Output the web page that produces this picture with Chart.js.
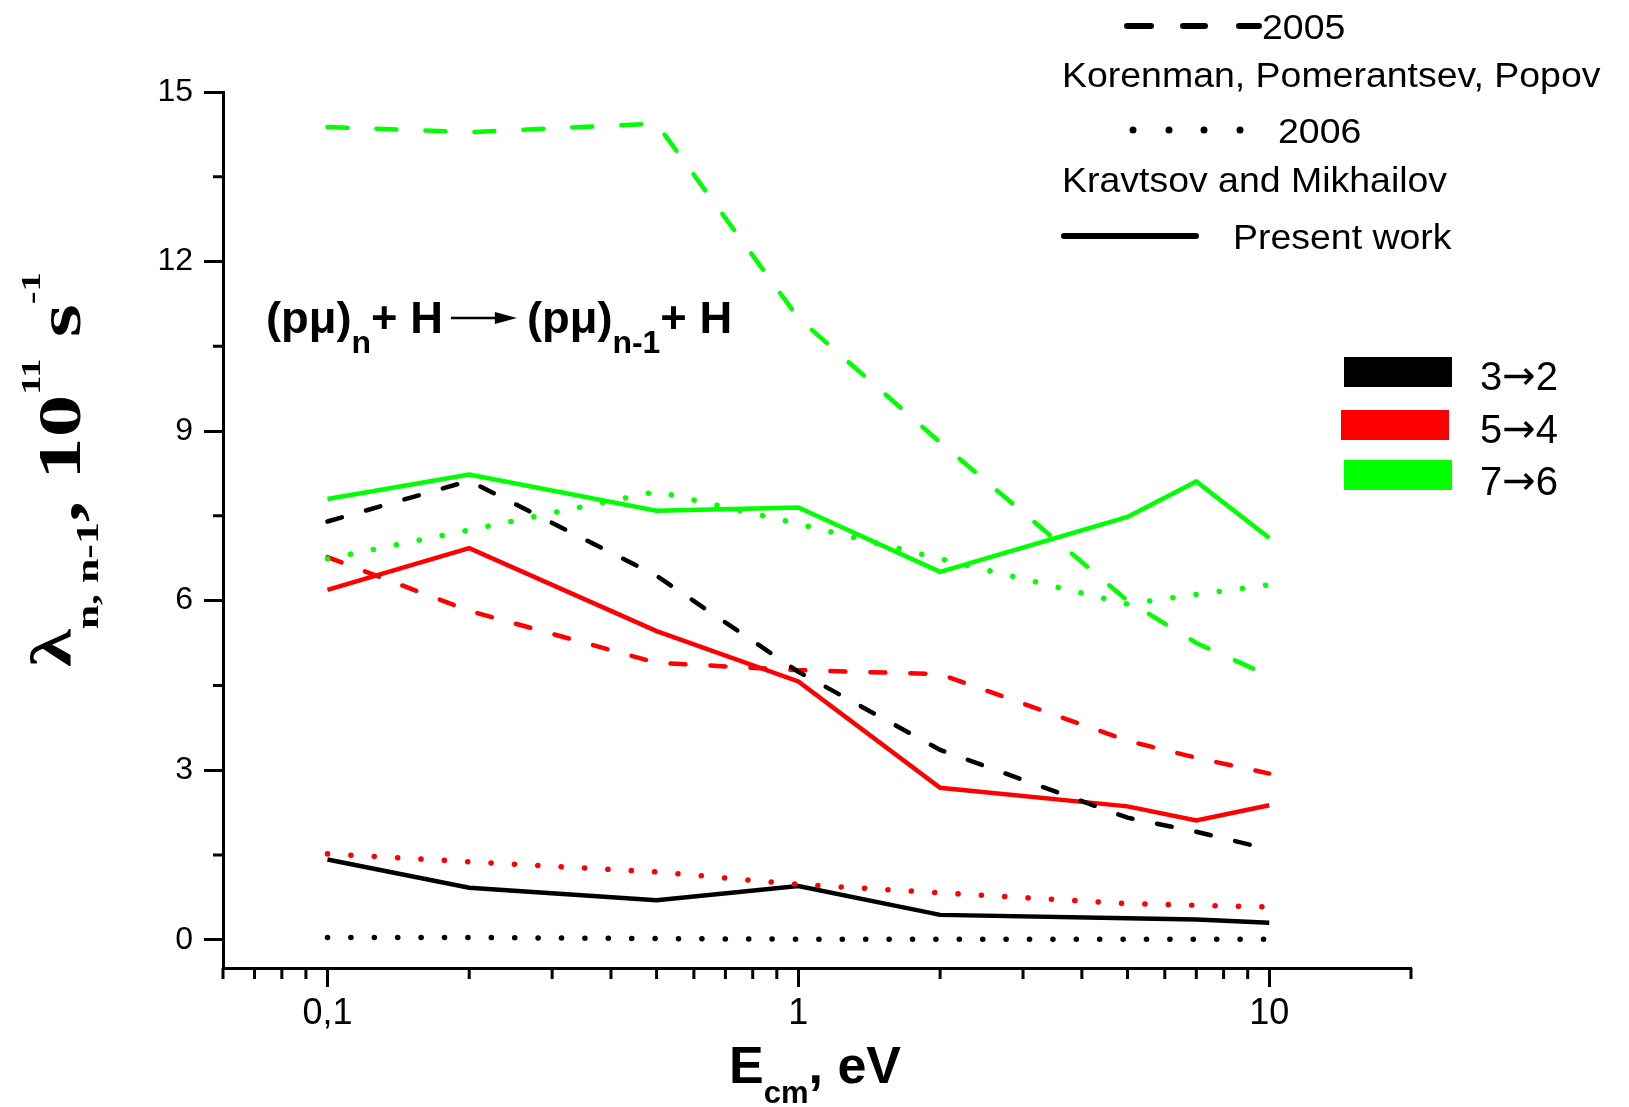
<!DOCTYPE html>
<html>
<head>
<meta charset="utf-8">
<script src="https://cdn.jsdelivr.net/npm/chart.js@4.4.0/dist/chart.umd.min.js"></script>
<style>
  html, body { margin: 0; padding: 0; background: #fff; }
  canvas { display: block; }
</style>
</head>
<body>
<canvas id="chart" width="1629" height="1107"></canvas>
<script>
// collision energies, eV
const energies = [0.1, 0.2, 0.5, 1, 2, 5, 7, 10];

// Present work (solid)
const present32 = [1.42, 0.92, 0.70, 0.95, 0.44, 0.38, 0.36, 0.30];
const present54 = [6.19, 6.93, 5.46, 4.57, 2.69, 2.36, 2.11, 2.38];
const present76 = [7.80, 8.23, 7.59, 7.65, 6.51, 7.48, 8.11, 7.11];

// Korenman, Pomerantsev, Popov 2005 (dashed)
const korenman32 = [7.40, 8.12, 6.44, 4.74, 3.36, 2.16, 1.91, 1.60];
const korenman54 = [6.77, 5.82, 4.90, 4.77, 4.70, 3.52, 3.22, 2.94];
const korenman76 = [14.38, 14.29, 14.44, 11.0, 8.8, 6.0, 5.25, 4.67];

// Kravtsov and Mikhailov 2006 (dotted)
const kravtsov32 = [0.04, 0.04, 0.02, 0.01, 0.01, 0.01, 0.01, 0.01];
const kravtsov54 = [1.52, 1.38, 1.20, 0.98, 0.83, 0.64, 0.61, 0.58];
const kravtsov76 = [6.74, 7.25, 7.93, 7.36, 6.74, 5.94, 6.11, 6.28];

const xTicks = [0.06, 0.07, 0.08, 0.09, 0.1, 0.2, 0.3, 0.4, 0.5, 0.6, 0.7, 0.8, 0.9,
                1, 2, 3, 4, 5, 6, 7, 8, 9, 10, 20];
const xMajor = [0.1, 1, 10];
const xLabels = ['0,1', '1', '10'];
const yTicks = [0, 1.5, 3, 4.5, 6, 7.5, 9, 10.5, 12, 13.5, 15];
const yLabels = ['0', '3', '6', '9', '12', '15'];

const transitions = [['3', '2'], ['5', '4'], ['7', '6']];
const colors = ['#000000', '#ff0000', '#00ff00'];

const SANS = '"Liberation Sans", Arial, sans-serif';
const SERIF = '"Liberation Serif", "Times New Roman", serif';

function series(label, values, color, style) {
  let dash = [];
  if (style === 'dash') dash = color === '#00ff00' ? [20, 29] : [15, 25];
  if (style === 'dot') dash = [0.1, 23.3];
  return {
    label: label,
    data: energies.map((x, i) => ({ x: x, y: values[i] })),
    borderColor: color,
    backgroundColor: color,
    borderWidth: style === 'dot' ? 5.5 : 4.5,
    borderDash: dash,
    borderCapStyle: style === 'solid' ? 'butt' : 'round',
    borderJoinStyle: 'miter',
    pointRadius: 0,
    tension: 0,
    fill: false
  };
}

const isMajorX = v => xMajor.indexOf(v) >= 0;
const isMajorY = v => v % 3 === 0;

// minor ticks are shorter than the major ones
const minorTicks = {
  id: 'minorTicks',
  afterDraw(chart) {
    const ctx = chart.ctx, xs = chart.scales.x, ys = chart.scales.y;
    ctx.save();
    ctx.strokeStyle = '#000';
    ctx.lineWidth = 3;
    ctx.beginPath();
    xTicks.filter(v => !isMajorX(v)).forEach(v => {
      const px = xs.getPixelForValue(v);
      ctx.moveTo(px, ys.bottom);
      ctx.lineTo(px, ys.bottom + 11);
    });
    yTicks.filter(v => !isMajorY(v)).forEach(v => {
      const py = ys.getPixelForValue(v);
      ctx.moveTo(xs.left, py);
      ctx.lineTo(xs.left - 10, py);
    });
    ctx.stroke();
    ctx.restore();
  }
};

// writes text stretched sideways by sx and moves the pen on
function put(ctx, st, text, font, dy, sx) {
  sx = sx || 1;
  ctx.font = font;
  ctx.save();
  ctx.translate(st.x, st.y + dy);
  ctx.scale(sx, 1);
  ctx.fillText(text, 0, 0);
  ctx.restore();
  st.x += ctx.measureText(text).width * sx;
}

const decorations = {
  id: 'decorations',
  afterDraw(chart) {
    const ctx = chart.ctx;
    ctx.save();
    ctx.fillStyle = '#000';
    ctx.textAlign = 'left';
    ctx.textBaseline = 'alphabetic';

    // x axis title
    let st = { x: 729, y: 1083 };
    put(ctx, st, 'E', 'bold 52px ' + SANS, 0);
    put(ctx, st, 'cm', 'bold 31px ' + SANS, 20);
    put(ctx, st, ', eV', 'bold 52px ' + SANS, 0);

    // y axis title
    ctx.save();
    ctx.translate(80, 667);
    ctx.rotate(-Math.PI / 2);
    st = { x: 0, y: 0 };
    const k = 1.37;
    put(ctx, st, 'λ', 'bold 56px ' + SERIF, -10, k);
    put(ctx, st, 'n, n-1', 'bold 32px ' + SERIF, 18, k);
    put(ctx, st, ', 10', 'bold 62px ' + SERIF, 0, k);
    put(ctx, st, '11', 'bold 28px ' + SERIF, -40, k);
    put(ctx, st, ' s', 'bold 62px ' + SERIF, 0, k);
    put(ctx, st, '-1', 'bold 28px ' + SERIF, -40, k);
    ctx.restore();

    // reaction
    const r = 1.03;
    st = { x: 266, y: 333 };
    put(ctx, st, '(pμ)', 'bold 44px ' + SANS, 0, r);
    put(ctx, st, 'n', 'bold 31px ' + SANS, 20, r);
    put(ctx, st, '+ H', 'bold 44px ' + SANS, 0, r);
    const a0 = st.x + 8, a1 = a0 + 66, ay = 318;
    ctx.strokeStyle = '#000';
    ctx.lineWidth = 2.5;
    ctx.beginPath();
    ctx.moveTo(a0, ay);
    ctx.lineTo(a1 - 18, ay);
    ctx.stroke();
    ctx.beginPath();
    ctx.moveTo(a1, ay);
    ctx.lineTo(a1 - 22, ay - 6);
    ctx.lineTo(a1 - 22, ay + 6);
    ctx.closePath();
    ctx.fill();
    st.x = a1 + 10;
    put(ctx, st, '(pμ)', 'bold 44px ' + SANS, 0, r);
    put(ctx, st, 'n-1', 'bold 31px ' + SANS, 20, r);
    put(ctx, st, '+ H', 'bold 44px ' + SANS, 0, r);

    // line style legend
    ctx.lineWidth = 6;
    ctx.lineCap = 'round';
    ctx.beginPath();
    [[1127, 1151], [1183, 1205], [1239, 1259]].forEach(d => {
      ctx.moveTo(d[0], 26);
      ctx.lineTo(d[1], 26);
    });
    ctx.stroke();
    [1133, 1169, 1204, 1240].forEach(x => {
      ctx.beginPath();
      ctx.arc(x, 130, 3.5, 0, Math.PI * 2);
      ctx.fill();
    });
    ctx.beginPath();
    ctx.moveTo(1064, 236);
    ctx.lineTo(1196, 236);
    ctx.stroke();
    const lf = '35px ' + SANS, lk = 1.07;
    put(ctx, { x: 1262, y: 39 }, '2005', lf, 0, lk);
    put(ctx, { x: 1062, y: 87 }, 'Korenman, Pomerantsev, Popov', lf, 0, lk);
    put(ctx, { x: 1278, y: 143 }, '2006', lf, 0, lk);
    put(ctx, { x: 1062, y: 192 }, 'Kravtsov and Mikhailov', lf, 0, lk);
    put(ctx, { x: 1233, y: 249 }, 'Present work', lf, 0, lk);

    // transition legend
    const boxes = [[1344, 357], [1341, 410], [1344, 460]];
    const bases = [390, 443, 495];
    transitions.forEach((t, i) => {
      ctx.fillStyle = colors[i];
      ctx.fillRect(boxes[i][0], boxes[i][1], 108, 30);
      ctx.fillStyle = '#000';
      const p = { x: 1480, y: bases[i] };
      put(ctx, p, t[0], '40px ' + SANS, 0);
      put(ctx, p, '→', '40px "DejaVu Sans", sans-serif', -1);
      put(ctx, p, t[1], '40px ' + SANS, 0);
    });
    ctx.restore();
  }
};

new Chart(document.getElementById('chart'), {
  type: 'line',
  data: {
    datasets: [
      series('2006 3→2', kravtsov32, colors[0], 'dot'),
      series('2006 5→4', kravtsov54, colors[1], 'dot'),
      series('2006 7→6', kravtsov76, colors[2], 'dot'),
      series('2005 3→2', korenman32, colors[0], 'dash'),
      series('2005 5→4', korenman54, colors[1], 'dash'),
      series('2005 7→6', korenman76, colors[2], 'dash'),
      series('Present 3→2', present32, colors[0], 'solid'),
      series('Present 5→4', present54, colors[1], 'solid'),
      series('Present 7→6', present76, colors[2], 'solid')
    ]
  },
  options: {
    responsive: false,
    animation: false,
    events: [],
    layout: { padding: { left: 0, right: 218, top: 92, bottom: 0 } },
    plugins: { legend: { display: false }, tooltip: { enabled: false } },
    scales: {
      x: {
        type: 'logarithmic',
        min: 0.06,
        max: 20,
        afterBuildTicks: s => { s.ticks = xTicks.map(v => ({ value: v })); },
        afterFit: s => { s.height = 1107 - 968; },
        ticks: {
          autoSkip: false,
          maxRotation: 0,
          padding: 5,
          color: '#000',
          font: { family: SANS, size: 36 },
          callback: v => isMajorX(v) ? xLabels[xMajor.indexOf(v)] : ''
        },
        grid: {
          drawOnChartArea: false,
          drawTicks: true,
          tickLength: 19,
          tickWidth: 3,
          tickColor: c => isMajorX(c.tick.value) ? '#000' : 'rgba(0,0,0,0)'
        },
        border: { display: true, color: '#000', width: 3 }
      },
      y: {
        min: -0.5,
        max: 15,
        afterBuildTicks: s => { s.ticks = yTicks.map(v => ({ value: v })); },
        afterFit: s => { s.width = 223; },
        ticks: {
          autoSkip: false,
          padding: 11,
          color: '#000',
          font: { family: SANS, size: 32 },
          callback: v => isMajorY(v) ? yLabels[v / 3] : ''
        },
        grid: {
          drawOnChartArea: false,
          drawTicks: true,
          tickLength: 19,
          tickWidth: 3,
          tickColor: c => isMajorY(c.tick.value) ? '#000' : 'rgba(0,0,0,0)'
        },
        border: { display: true, color: '#000', width: 3 }
      }
    }
  },
  plugins: [minorTicks, decorations]
});
</script>
</body>
</html>
